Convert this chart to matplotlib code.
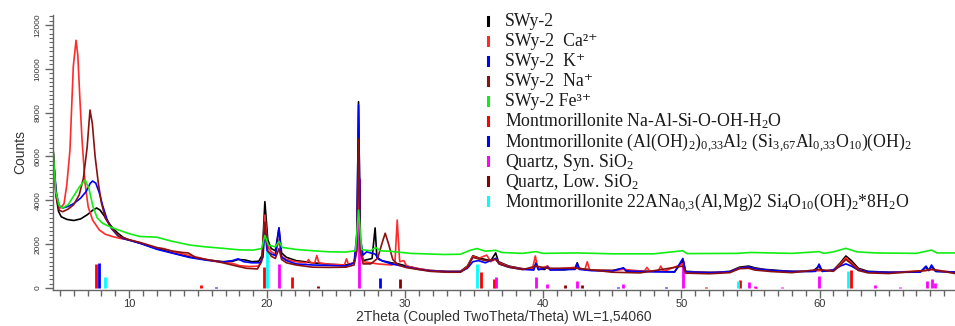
import matplotlib
matplotlib.use("Agg")
import matplotlib.pyplot as plt
from matplotlib.lines import Line2D
from matplotlib.ticker import MultipleLocator

plt.rcParams['mathtext.fontset'] = 'custom'
plt.rcParams['mathtext.rm'] = 'Liberation Serif'
plt.rcParams['mathtext.it'] = 'Liberation Serif:italic'
plt.rcParams['mathtext.bf'] = 'Liberation Serif:bold'

# ---------------- data (2theta, counts) ----------------
swy2_theta = [4.48, 4.6, 4.75, 4.9, 5.1, 5.5, 6.0, 6.5, 7.0, 7.4, 7.66, 7.9, 8.2, 8.5, 8.8, 9.2, 9.6, 10.0,
              10.8, 12.0, 13.2, 14.4, 15.6, 16.8, 17.5, 17.9, 18.4, 18.9, 19.4, 19.65, 19.84, 20.05, 20.3,
              20.6, 20.86, 21.05, 21.4, 22.1, 23.3, 24.5, 25.7, 26.3, 26.5, 26.62, 26.75, 26.95, 27.3, 27.6,
              27.82, 27.95, 28.3, 29.0, 29.5, 30.1, 31.0, 31.8, 33.0, 34.0, 34.5, 34.9, 35.3, 35.8, 36.2,
              36.55, 36.75, 37.5, 38.5, 39.3, 39.47, 39.65, 40.1, 40.3, 40.5, 41.5, 42.3, 42.45, 42.6, 43.5,
              45.0, 45.8, 46.0, 47.0, 48.0, 49.5, 50.1, 50.3, 51.5, 52.5, 53.5, 54.2, 54.87, 55.3, 56.0,
              57.0, 58.0, 59.5, 59.96, 60.2, 61.0, 61.5, 61.9, 62.3, 62.8, 63.5, 65.0, 66.5, 67.3, 67.7,
              67.9, 68.1, 68.4, 69.8]
swy2_counts = [6600, 5300, 4100, 3500, 3250, 3130, 3080, 3150, 3350, 3560, 3650, 3560, 3300, 3000, 2750, 2500, 2300, 2200,
               2050, 1800, 1600, 1420, 1290, 1200, 1220, 1300, 1280, 1200, 1220, 1500, 3940, 2200, 1800,
               1700, 2740, 1600, 1400, 1250, 1150, 1080, 1050, 1150, 2000, 8500, 2000, 1250, 1300, 1350,
               2740, 1400, 1250, 1150, 1100, 1000, 870, 800, 760, 760, 1000, 1470, 1380, 1300, 1250,
               1600, 1200, 1000, 880, 850, 1150, 860, 850, 1000, 840, 830, 900, 1150, 880, 820,
               800, 900, 790, 770, 760, 740, 1250, 760, 720, 710, 760, 950, 1000, 920, 850,
               800, 760, 760, 1000, 760, 820, 1150, 1460, 1250, 900, 760, 720, 720, 740, 950,
               800, 980, 760, 730]

ca_theta = [4.48, 4.65, 4.85, 5.05, 5.3, 5.5, 5.73, 5.97, 6.17, 6.3, 6.45, 6.6, 6.82, 7.05, 7.37, 7.85, 8.3, 8.8,
            9.3, 10.0, 10.8, 12.0, 12.5, 13.2, 14.3, 15.6, 16.8, 17.5, 18.0, 18.7, 19.4, 19.65, 19.84, 20.05,
            20.3, 20.6, 20.86, 21.05, 21.4, 22.1, 22.85, 23.0, 23.15, 23.45, 23.6, 23.75, 24.5, 25.6, 25.75,
            25.9, 26.3, 26.5, 26.62, 26.75, 26.95, 27.5, 28.0, 29.0, 29.25, 29.42, 29.6, 29.9, 30.1, 31.0,
            31.8, 33.0, 34.0, 34.5, 34.9, 35.3, 35.9, 36.2, 36.55, 36.8, 37.5, 38.5, 39.2, 39.42, 39.6,
            40.3, 40.5, 42.45, 43.0, 43.18, 43.35, 45.0, 45.8, 47.3, 47.5, 47.7, 48.3, 48.5, 48.7, 50.1,
            50.3, 52.0, 53.5, 54.2, 54.87, 55.3, 56.5, 58.0, 59.96, 61.0, 61.5, 61.9, 62.3, 62.8, 63.5,
            65.0, 67.7, 68.1, 69.8]
ca_counts = [6600, 4800, 3850, 3650, 3850, 4700, 6300, 10100, 11300, 10600, 8600, 6800, 4800, 3700, 3100, 2650, 2450, 2350,
             2270, 2200, 2050, 1830, 1800, 1650, 1500, 1300, 1180, 1120, 1020, 980, 1000, 1400, 3330, 1900,
             1650, 1550, 2200, 1450, 1300, 1200, 1150, 1300, 1150, 1150, 1480, 1150, 1080, 1050, 1330,
             1060, 1150, 1800, 5500, 1800, 1200, 1150, 1100, 1050, 1100, 3100, 1200, 1250, 1000, 880,
             800, 750, 750, 980, 1450, 1350, 1500, 1200, 1350, 1150, 980, 870, 860, 1460, 860,
             1000, 840, 950, 830, 1200, 820, 790, 850, 760, 940, 760, 760, 1000, 760, 1100,
             740, 700, 740, 920, 950, 880, 790, 740, 790, 800, 1100, 1380, 1150, 850, 730,
             700, 800, 850, 700]

k_theta = [4.48, 4.6, 4.75, 4.95, 5.2, 5.6, 6.0, 6.5, 6.9, 7.2, 7.37, 7.6, 7.85, 8.1, 8.4, 8.75, 9.2, 9.6, 10.0,
           10.8, 12.0, 13.2, 14.4, 15.6, 16.8, 17.5, 17.9, 18.3, 18.9, 19.5, 19.7, 19.84, 20.0, 20.3, 20.6,
           20.86, 21.05, 21.4, 22.1, 23.3, 24.5, 25.7, 26.3, 26.5, 26.62, 26.75, 26.95, 27.2, 27.5, 27.82,
           28.1, 28.5, 29.0, 30.1, 31.0, 31.8, 33.0, 34.0, 34.5, 34.9, 35.3, 35.8, 36.55, 36.8, 37.5, 38.5,
           39.3, 39.47, 39.65, 40.3, 40.5, 42.3, 42.45, 42.6, 43.5, 45.0, 45.8, 46.0, 48.0, 49.5, 50.1, 50.3,
           52.0, 53.5, 54.2, 54.87, 55.3, 56.5, 58.0, 59.7, 59.96, 60.2, 61.0, 61.5, 61.9, 62.3, 62.8, 63.5,
           65.0, 67.3, 67.7, 67.9, 68.1, 68.4, 69.8]
k_counts = [6600, 5400, 4300, 3750, 3650, 3720, 3850, 4100, 4400, 4780, 4880, 4780, 4350, 3750, 3150, 2700, 2380, 2250, 2180,
            2040, 1770, 1580, 1390, 1270, 1180, 1250, 1330, 1200, 1150, 1150, 1400, 2650, 1700, 1550, 1480,
            2740, 1400, 1250, 1100, 1050, 1030, 1000, 1150, 2500, 8350, 2300, 1500, 1650, 1600, 1550,
            1300, 1200, 1100, 960, 850, 780, 740, 740, 900, 1200, 1250, 1150, 1350, 1100, 950, 850,
            820, 1120, 830, 950, 820, 850, 1120, 850, 790, 770, 920, 770, 740, 730, 1350, 740,
            700, 740, 900, 960, 880, 800, 750, 760, 1090, 760, 820, 1000, 1100, 1000, 820, 740,
            710, 730, 1000, 800, 1050, 760, 720]

na_theta = [4.48, 4.7, 4.95, 5.2, 5.6, 6.0, 6.4, 6.7, 6.97, 7.18, 7.35, 7.55, 7.78, 8.0, 8.3, 8.75, 9.24, 10.0,
            10.8, 12.0, 13.2, 13.9, 14.3, 14.8, 15.6, 16.8, 17.8, 18.5, 19.3, 19.6, 19.84, 20.05, 20.3, 20.6,
            20.86, 21.05, 21.4, 22.1, 23.3, 24.5, 25.7, 26.3, 26.5, 26.62, 26.75, 26.95, 27.5, 28.0, 28.3,
            28.55, 28.8, 29.1, 29.5, 30.1, 31.0, 31.8, 33.0, 34.0, 34.5, 34.9, 35.3, 35.8, 36.55, 36.8,
            37.5, 38.5, 39.47, 40.3, 42.45, 45.0, 47.0, 50.1, 50.3, 52.0, 53.5, 54.2, 54.87, 55.3, 56.5,
            58.0, 59.96, 61.0, 61.5, 61.9, 62.3, 62.8, 63.5, 65.0, 67.7, 68.1, 69.8]
na_counts = [6600, 4300, 3550, 3480, 3600, 3800, 4250, 5000, 6400, 8120, 7500, 6000, 4800, 3900, 3170, 2720, 2370, 2200,
             2080, 1850, 1680, 1620, 1600, 1400, 1300, 1150, 1000, 900, 870, 1200, 3000, 1700, 1450, 1350,
             1800, 1300, 1150, 1050, 950, 940, 950, 1050, 1700, 6800, 1700, 1100, 1100, 1350, 2000,
             2500, 2000, 1300, 1050, 930, 840, 760, 720, 720, 940, 1400, 1330, 1250, 1300, 1100,
             950, 840, 1000, 900, 900, 720, 690, 1000, 680, 650, 700, 880, 900, 820, 750,
             700, 850, 760, 1050, 1300, 1100, 800, 690, 660, 800, 850, 660]

fe_theta = [4.48, 4.7, 4.95, 5.2, 5.6, 6.0, 6.4, 6.82, 7.1, 7.4, 7.7, 8.1, 8.6, 9.0, 10.0, 10.8, 12.0, 13.0,
            14.4, 15.5, 16.8, 18.0, 19.0, 19.6, 19.84, 20.1, 20.6, 20.86, 21.1, 22.1, 23.3, 24.5, 25.7,
            26.4, 26.62, 26.85, 27.5, 27.85, 28.2, 29.0, 30.4, 31.8, 32.8, 34.0, 34.7, 35.2, 35.8, 36.55,
            37.0, 38.5, 39.47, 40.0, 42.45, 45.0, 48.0, 50.1, 50.4, 54.0, 55.0, 58.0, 59.96, 60.3, 61.0,
            61.9, 62.7, 64.0, 67.0, 68.1, 68.5, 69.8]
fe_counts = [6600, 4400, 3750, 3650, 3800, 4200, 4600, 4930, 4550, 3700, 3200, 2950, 2800, 2700, 2480, 2350, 2320, 2150,
             1960, 1880, 1810, 1740, 1730, 1800, 2400, 1950, 1880, 2130, 1850, 1760, 1700, 1650, 1640,
             1700, 3550, 1750, 1700, 1850, 1700, 1670, 1580, 1550, 1530, 1540, 1720, 1800, 1680, 1720,
             1620, 1580, 1660, 1580, 1600, 1560, 1560, 1700, 1570, 1580, 1620, 1580, 1660, 1580, 1650,
             1810, 1650, 1600, 1580, 1730, 1600, 1600]

# reference patterns (stick positions, heights)
ref_mont_na_theta = [7.65, 15.2, 19.8, 21.8, 35.5, 36.4, 51.8, 54.2, 55.4, 62.3]
ref_mont_na_h = [1100, 150, 950, 490, 720, 390, 40, 380, 50, 800]
ref_mont_al_theta = [7.85, 16.3, 28.2, 45.4, 48.9]
ref_mont_al_h = [1150, 50, 460, 60, 40]
ref_qz_syn_theta = [20.86, 26.64, 36.54, 39.47, 40.29, 42.45, 45.79, 50.14, 54.87, 55.33, 57.24,
                    59.96, 64.03, 65.79, 67.74, 68.14, 68.32]
ref_qz_syn_h = [1100, 5000, 490, 490, 185, 310, 185, 1250, 280, 80, 40,
                540, 120, 40, 310, 420, 230]
ref_qz_low_theta = [23.7, 29.6, 41.6, 42.8]
ref_qz_low_h = [80, 430, 120, 120]
ref_mont22_theta = [8.3, 20.0, 35.2, 54.1, 62.05]
ref_mont22_h = [500, 1700, 1080, 300, 770]

series = [
    ("SWy-2", swy2_theta, swy2_counts, "#000000"),
    ("SWy-2  Ca\u00b2\u207a", ca_theta, ca_counts, "#ff2a2a"),
    ("SWy-2  K\u207a", k_theta, k_counts, "#0000ff"),
    ("SWy-2  Na\u207a", na_theta, na_counts, "#8b1010"),
    ("SWy-2 Fe\u00b3\u207a", fe_theta, fe_counts, "#11ee11"),
]
refs = [
    ("Montmorillonite Na-Al-Si-O-OH-H$_2$O", ref_mont_na_theta, ref_mont_na_h, "#ff0000"),
    ("Montmorillonite (Al(OH)$_2$)$_{0{,}33}$Al$_2$ (Si$_{3{,}67}$Al$_{0{,}33}$O$_{10}$)(OH)$_2$",
     ref_mont_al_theta, ref_mont_al_h, "#0000ff"),
    ("Quartz, Syn. SiO$_2$", ref_qz_syn_theta, ref_qz_syn_h, "#ff00ff"),
    ("Quartz, Low. SiO$_2$", ref_qz_low_theta, ref_qz_low_h, "#8b0000"),
    ("Montmorillonite 22ANa$_{0{,}3}$(Al,Mg)2 Si$_4$O$_{10}$(OH)$_2$*8H$_2$O",
     ref_mont22_theta, ref_mont22_h, "#00ffff"),
]

W, H = 955, 326
fig = plt.figure(figsize=(W / 100, H / 100), dpi=100)
ax = fig.add_axes([52.7 / W, (H - 289.5) / H, 1 - 52.7 / W, (289.5 - 15) / H])

for name, th, h, c in refs:
    ax.vlines(th, 0, h, colors=c, linewidth=2.0, zorder=1)

draw_order = [4, 0, 3, 1, 2]
for i in draw_order:
    name, th, cnt, c = series[i]
    ax.plot(th, cnt, color=c, linewidth=1.2, zorder=2 + i * 0.1)

ax.set_xlim(4.48, 69.8)
ax.set_ylim(-68, 12454)

for s in ["top", "right"]:
    ax.spines[s].set_visible(False)
for s in ["left", "bottom"]:
    ax.spines[s].set_color("#666666")
    ax.spines[s].set_linewidth(1.0)

ax.xaxis.set_major_locator(MultipleLocator(10))
ax.xaxis.set_minor_locator(MultipleLocator(1))
ax.yaxis.set_major_locator(MultipleLocator(2000))
ax.yaxis.set_minor_locator(MultipleLocator(200))
ax.tick_params(axis="both", which="both", direction="out", colors="#666666", labelcolor="#333333")
ax.tick_params(axis="x", which="major", length=6, width=1.0, labelsize=8, pad=0.5)
ax.tick_params(axis="x", which="minor", length=4, width=1.0)
ax.tick_params(axis="y", which="major", length=6, width=1.0, labelsize=6, pad=2)
ax.tick_params(axis="y", which="minor", length=3, width=0.8)
for lab in ax.get_yticklabels():
    lab.set_rotation(90)
    lab.set_va("center")
    lab.set_family("Liberation Sans")
for lab in ax.get_xticklabels():
    lab.set_family("Liberation Sans")

ax.set_xlabel("2Theta (Coupled TwoTheta/Theta) WL=1,54060", fontsize=10,
              family="Liberation Sans", color="#333333", labelpad=1)
ax.set_ylabel("Counts", fontsize=10, family="Liberation Sans", color="#333333", labelpad=5)

# legend (manual, matching the reference layout)
entries = [(n, c) for n, _, _, c in series] + [(n, c) for n, _, _, c in refs]
y0, dy = 20.5, 20.1
for k, (label, color) in enumerate(entries):
    yc = y0 + k * dy
    fig.add_artist(Line2D([488 / W, 488 / W], [(H - yc - 4) / H, (H - yc + 4) / H],
                          color=color, linewidth=2.2, transform=fig.transFigure))
    fig.text(505 / W, (H - yc - 5.5) / H, label, fontsize=12.8,
             family=["Liberation Serif", "DejaVu Serif"],
             color="#1a1a1a", va="baseline", ha="left")

fig.savefig("out.png", dpi=100)
